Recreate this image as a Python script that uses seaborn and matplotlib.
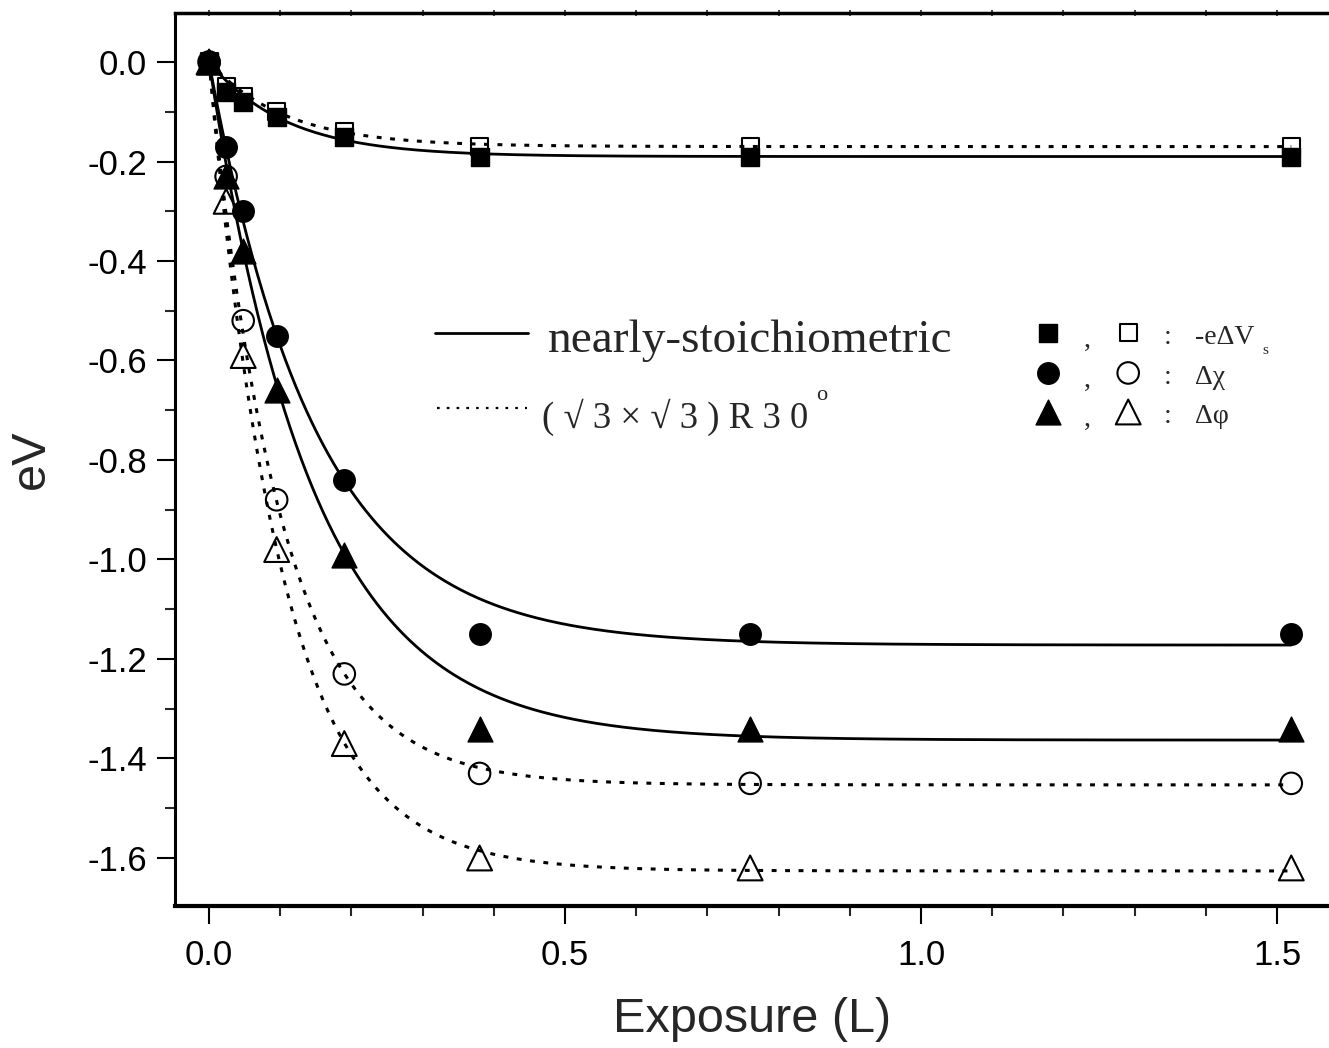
import matplotlib
matplotlib.use('Agg')
import matplotlib.pyplot as plt
import numpy as np
import seaborn as sns
from matplotlib.ticker import MultipleLocator, FormatStrFormatter

sns.set_style('white')
plt.rcParams['font.family'] = ['Liberation Sans', 'DejaVu Sans']

# exposure (L)
exposure = [0.0, 0.024, 0.048, 0.095, 0.19, 0.38, 0.76, 1.52]

# nearly-stoichiometric (filled markers)
dvs_stoich = [0.0, -0.06, -0.08, -0.11, -0.15, -0.19, -0.19, -0.19]
dchi_stoich = [0.0, -0.17, -0.30, -0.55, -0.84, -1.15, -1.15, -1.15]
dphi_stoich = [0.0, -0.23, -0.38, -0.66, -0.99, -1.34, -1.34, -1.34]

# (sqrt3 x sqrt3)R30 (open markers)
dvs_r30 = [0.0, -0.05, -0.07, -0.10, -0.14, -0.17, -0.17, -0.17]
dchi_r30 = [0.0, -0.23, -0.52, -0.88, -1.23, -1.43, -1.45, -1.45]
dphi_r30 = [0.0, -0.28, -0.59, -0.98, -1.37, -1.60, -1.62, -1.62]

# exponential fit curves: plateau, decay constant
fit_plateau = {'dvs_s': -0.19, 'dchi_s': -1.172, 'dphi_s': -1.363,
               'dvs_r': -0.17, 'dchi_r': -1.453, 'dphi_r': -1.626}
fit_tau = {'dvs_s': 0.109, 'dchi_s': 0.150, 'dphi_s': 0.147,
           'dvs_r': 0.107, 'dchi_r': 0.1015, 'dphi_r': 0.103}

fig = plt.figure(figsize=(13.29, 10.48), dpi=100)
ax = fig.add_axes([175 / 1329, 1 - 906 / 1048, 1 - 175 / 1329, (906 - 13) / 1048])

xf = np.linspace(0, exposure[-1], 400)
dotted = (0, (1.6, 2.8))
for key in fit_plateau:
    yf = fit_plateau[key] * (1 - np.exp(-xf / fit_tau[key]))
    solid = key.endswith('_s')
    sns.lineplot(x=xf, y=yf, ax=ax, color='black',
                 lw=2.0 if solid else 2.2,
                 linestyle='-' if solid else dotted, zorder=2)

# open markers
sns.scatterplot(x=exposure, y=dvs_r30, ax=ax, marker='s', s=150,
                facecolor='none', edgecolor='black', linewidth=1.5, zorder=3)
sns.scatterplot(x=exposure, y=dchi_r30, ax=ax, marker='o', s=240,
                facecolor='none', edgecolor='black', linewidth=1.5, zorder=3)
sns.scatterplot(x=exposure, y=dphi_r30, ax=ax, marker='^', s=320,
                facecolor='none', edgecolor='black', linewidth=1.5, zorder=3)
# filled markers
sns.scatterplot(x=exposure, y=dvs_stoich, ax=ax, marker='s', s=150,
                color='black', edgecolor='black', linewidth=1, zorder=4)
sns.scatterplot(x=exposure, y=dchi_stoich, ax=ax, marker='o', s=240,
                color='black', edgecolor='black', linewidth=1, zorder=4)
sns.scatterplot(x=exposure, y=dphi_stoich, ax=ax, marker='^', s=320,
                color='black', edgecolor='black', linewidth=1, zorder=4)

ax.set_xlim(-0.0478, 1.573)
ax.set_ylim(-1.6965, 0.0985)

ax.xaxis.set_major_locator(MultipleLocator(0.5))
ax.xaxis.set_minor_locator(MultipleLocator(0.1))
ax.yaxis.set_major_locator(MultipleLocator(0.2))
ax.yaxis.set_minor_locator(MultipleLocator(0.1))
ax.xaxis.set_major_formatter(FormatStrFormatter('%.1f'))
ax.yaxis.set_major_formatter(FormatStrFormatter('%.1f'))

ax.tick_params(which='major', direction='out', length=13, width=1.5,
               labelsize=25, pad=11, colors='black', bottom=True, left=True)
ax.tick_params(which='minor', direction='out', length=7, width=1.5,
               bottom=True, left=True)
ax.tick_params(axis='y', which='major', pad=7)

for side in ['left', 'bottom', 'top']:
    ax.spines[side].set_color('black')
ax.spines['left'].set_linewidth(2.2)
ax.spines['bottom'].set_linewidth(3)
ax.spines['top'].set_linewidth(2.5)
ax.spines['right'].set_visible(False)

top = ax.secondary_xaxis('top')
top.xaxis.set_major_locator(MultipleLocator(0.1))
top.tick_params(direction='inout', length=5, width=1.2, labeltop=False)
top.spines['top'].set_visible(False)

ax.set_xlabel('Exposure (L)', fontsize=35, labelpad=18)
ax.set_ylabel('eV', fontsize=35, labelpad=24)

# legend: line styles
serif = ['Liberation Serif', 'DejaVu Serif']
tr = ax.transAxes
ax.plot([0.225, 0.306], [0.6417, 0.6417], color='black', lw=2, transform=tr)
ax.plot([0.227, 0.305], [0.5577, 0.5577], color='black', lw=1.6,
        linestyle=(0, (1.2, 3.2)), transform=tr)
ax.text(0.323, 0.620, 'nearly-stoichiometric', transform=tr,
        fontsize=34, family=serif, va='baseline')
ax.text(0.318, 0.535, '( \u221a 3 \u00d7 \u221a 3 ) R 3 0', transform=tr,
        fontsize=26.5, family=serif, va='baseline')
ax.text(0.556, 0.567, 'o', transform=tr, fontsize=16, family=serif,
        va='baseline')

# legend: markers
row_y = [0.6417, 0.5969, 0.5532]
labels = ['-e\u0394V', '\u0394\u03c7', '\u0394\u03c6']
shapes = ['s', 'o', '^']
sizes = [150, 240, 320]
for yy, lab, mk, sz in zip(row_y, labels, shapes, sizes):
    ax.scatter([0.7565], [yy], marker=mk, s=sz, color='black', transform=tr,
               clip_on=False)
    ax.scatter([0.826], [yy], marker=mk, s=sz, facecolor='none',
               edgecolor='black', linewidth=1.5, transform=tr, clip_on=False)
    ax.text(0.788, yy - 0.016, ',', transform=tr, fontsize=20, family=serif,
            va='baseline')
    ax.text(0.857, yy - 0.012, ':', transform=tr, fontsize=20, family=serif,
            va='baseline')
    ax.text(0.884, yy - 0.012, lab, transform=tr, fontsize=20, family=serif,
            va='baseline')
ax.text(0.942, row_y[0] - 0.024, 's', transform=tr, fontsize=11,
        family=serif, va='baseline')

fig.savefig('out.png', dpi=100)
